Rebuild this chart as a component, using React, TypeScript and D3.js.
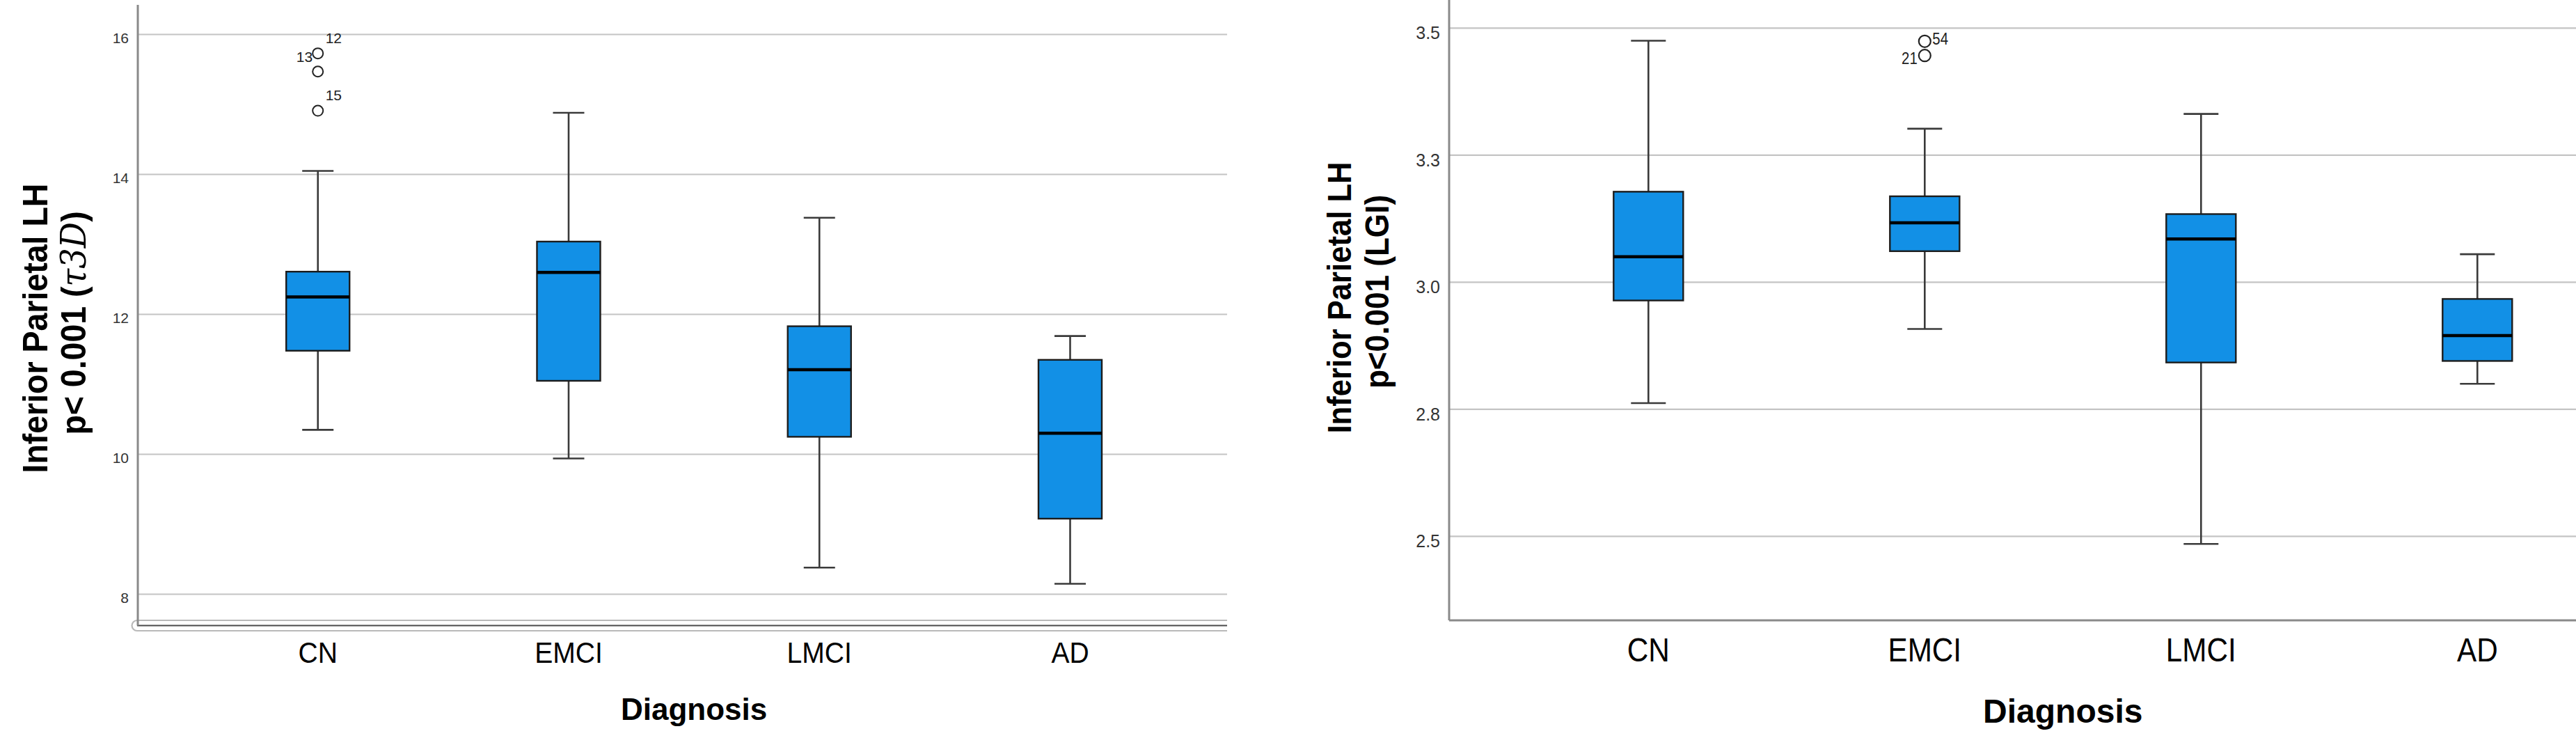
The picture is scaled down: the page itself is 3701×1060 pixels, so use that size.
import React from "react";
import * as d3 from "d3";

// ---------- data ----------
const categories = ["CN", "EMCI", "LMCI", "AD"];

// Left panel: Inferior Parietal LH (τ3D)
const tauWhiskerLow = [10.35, 9.94, 8.38, 8.15];
const tauQ1 = [11.48, 11.05, 10.25, 9.08];
const tauMedian = [12.25, 12.6, 11.21, 10.3];
const tauQ3 = [12.61, 13.04, 11.83, 11.35];
const tauWhiskerHigh = [14.05, 14.88, 13.38, 11.69];
const tauOutlierCategory = ["CN", "CN", "CN"];
const tauOutlierValues = [15.73, 15.47, 14.91];
const tauOutlierLabels = [
  { cat: "CN", value: 15.73, id: "12", side: "upright" },
  { cat: "CN", value: 15.73, id: "13", side: "left" },
  { cat: "CN", value: 14.91, id: "15", side: "upright" },
];
const tauTicks = [8, 10, 12, 14, 16];
const tauTickLabels = ["8", "10", "12", "14", "16"];

// Right panel: Inferior Parietal LH (LGI)
const lgiWhiskerLow = [2.762, 2.908, 2.485, 2.8];
const lgiQ1 = [2.964, 3.061, 2.842, 2.845];
const lgiMedian = [3.05, 3.117, 3.085, 2.895];
const lgiQ3 = [3.178, 3.169, 3.134, 2.967];
const lgiWhiskerHigh = [3.475, 3.302, 3.331, 3.055];
const lgiOutlierCategory = ["EMCI", "EMCI"];
const lgiOutlierValues = [3.474, 3.446];
const lgiOutlierLabels = [
  { cat: "EMCI", value: 3.474, id: "54", side: "right" },
  { cat: "EMCI", value: 3.446, id: "21", side: "left" },
];
const lgiTicks = [2.5, 2.75, 3.0, 3.25, 3.5];
const lgiTickLabels = ["2.5", "2.8", "3.0", "3.3", "3.5"];

// ---------- styles ----------
const FONT = "'Liberation Sans', Arial, Helvetica, sans-serif";
const BOX_FILL = "#1290e6";
const BOX_STROKE = "#1c1c1c";
const WHISKER = "#3a3a3a";
const GRID = "#c4c4c4";
const AXIS = "#8a8a8a";

type Panel = {
  x: d3.ScalePoint<string>;
  y: d3.ScaleLinear<number, number>;
  left: number;
  right: number;
  top: number;
  bottom: number;
  boxW: number;
  capW: number;
  r: number;
  ticks: number[];
  tickLabels: string[];
  tickFont: number;
  tickRight: number;
  tickDy: number;
  catFont: number;
  catBaseline: number;
  catSquash: number;
  outFont: number;
};

function Boxes({
  p,
  lo,
  q1,
  med,
  q3,
  hi,
}: {
  p: Panel;
  lo: number[];
  q1: number[];
  med: number[];
  q3: number[];
  hi: number[];
}) {
  return (
    <g>
      {categories.map((c, i) => {
        const cx = p.x(c)!;
        const yHi = p.y(hi[i]);
        const yLo = p.y(lo[i]);
        const yQ1 = p.y(q1[i]);
        const yQ3 = p.y(q3[i]);
        const yMed = p.y(med[i]);
        return (
          <g key={c}>
            <line x1={cx} x2={cx} y1={yHi} y2={yQ3} stroke={WHISKER} strokeWidth={2.6} />
            <line x1={cx} x2={cx} y1={yQ1} y2={yLo} stroke={WHISKER} strokeWidth={2.6} />
            <line x1={cx - p.capW / 2} x2={cx + p.capW / 2} y1={yHi} y2={yHi} stroke={WHISKER} strokeWidth={2.6} />
            <line x1={cx - p.capW / 2} x2={cx + p.capW / 2} y1={yLo} y2={yLo} stroke={WHISKER} strokeWidth={2.6} />
            <rect
              x={cx - p.boxW / 2}
              y={yQ3}
              width={p.boxW}
              height={yQ1 - yQ3}
              fill={BOX_FILL}
              stroke={BOX_STROKE}
              strokeWidth={2.4}
            />
            <line
              x1={cx - p.boxW / 2}
              x2={cx + p.boxW / 2}
              y1={yMed}
              y2={yMed}
              stroke="#000"
              strokeWidth={4.5}
            />
          </g>
        );
      })}
    </g>
  );
}

function Grid({ p }: { p: Panel }) {
  return (
    <g>
      {p.ticks.map((t, i) => (
        <g key={t}>
          <line x1={p.left} x2={p.right} y1={p.y(t)} y2={p.y(t)} stroke={GRID} strokeWidth={2.2} />
          <text
            x={p.tickRight}
            y={p.y(t) + p.tickDy}
            textAnchor="end"
            fontFamily={FONT}
            fontSize={p.tickFont}
            fill="#333"
          >
            {p.tickLabels[i]}
          </text>
        </g>
      ))}
    </g>
  );
}

function CatLabels({ p }: { p: Panel }) {
  return (
    <g>
      {categories.map((c) => (
        <text
          key={c}
          transform={`translate(${p.x(c)},${p.catBaseline}) scale(${p.catSquash},1)`}
          textAnchor="middle"
          fontFamily={FONT}
          fontSize={p.catFont}
          fill="#000"
        >
          {c}
        </text>
      ))}
    </g>
  );
}

export default function App() {
  // Left panel scales
  const xL = d3.scalePoint<string>().domain(categories).range([456.7, 1537.5]);
  const yL = d3.scaleLinear().domain([8, 16]).range([853.5, 49.5]);
  const pL: Panel = {
    x: xL,
    y: yL,
    left: 198,
    right: 1763,
    top: 7,
    bottom: 898.5,
    boxW: 91,
    capW: 45,
    r: 7.5,
    ticks: tauTicks,
    tickLabels: tauTickLabels,
    tickFont: 21,
    tickRight: 185,
    tickDy: 12.5,
    catFont: 42,
    catBaseline: 952,
    catSquash: 0.93,
    outFont: 21,
  };

  // Right panel scales
  const xR = d3.scalePoint<string>().domain(categories).range([2368.3, 3559.3]);
  const yR = d3.scaleLinear().domain([2.5, 3.5]).range([770.3, 40.3]);
  const pR: Panel = {
    x: xR,
    y: yR,
    left: 2082,
    right: 3701,
    top: 0,
    bottom: 891,
    boxW: 100,
    capW: 50,
    r: 8.5,
    ticks: lgiTicks,
    tickLabels: lgiTickLabels,
    tickFont: 25,
    tickRight: 2069,
    tickDy: 15.7,
    catFont: 48,
    catBaseline: 950,
    catSquash: 0.88,
    outFont: 24,
  };

  const midL = (xL("CN")! + xL("AD")!) / 2;
  const midR = (xR("CN")! + xR("AD")!) / 2;

  return (
    <svg
      width={3701}
      height={1060}
      style={{ position: "absolute", left: 0, top: 0, background: "#fff" }}
    >
      <rect x={0} y={0} width={3701} height={1060} fill="#fff" />

      {/* ---------------- Left panel ---------------- */}
      <Grid p={pL} />
      {/* bottom frame with rounded break */}
      <path
        d={`M${pL.right},891 H197 A7.5,7.5 0 0 0 197,906 H${pL.right}`}
        fill="none"
        stroke="#b9b9b9"
        strokeWidth={2.2}
      />
      <line x1={197} x2={pL.right} y1={898.5} y2={898.5} stroke="#4a4a4a" strokeWidth={2.2} />
      <line x1={198} x2={198} y1={pL.top} y2={898.5} stroke={AXIS} strokeWidth={3} />

      <Boxes p={pL} lo={tauWhiskerLow} q1={tauQ1} med={tauMedian} q3={tauQ3} hi={tauWhiskerHigh} />
      {tauOutlierValues.map((v, i) => (
        <circle
          key={i}
          cx={xL(tauOutlierCategory[i])!}
          cy={yL(v)}
          r={pL.r}
          fill="none"
          stroke="#222"
          strokeWidth={2}
        />
      ))}
      {tauOutlierLabels.map((o, i) => {
        const cx = xL(o.cat)!;
        const cy = yL(o.value);
        const up = o.side === "upright";
        return (
          <text
            key={i}
            x={up ? cx + 11 : cx - 7.5}
            y={up ? cy - 15 : cy + 12}
            textAnchor={up ? "start" : "end"}
            fontFamily={FONT}
            fontSize={pL.outFont}
            fill="#222"
          >
            {o.id}
          </text>
        );
      })}
      <CatLabels p={pL} />
      <text
        x={midL}
        y={1034}
        textAnchor="middle"
        fontFamily={FONT}
        fontSize={44}
        fontWeight="bold"
        fill="#000"
      >
        Diagnosis
      </text>
      <g transform={`translate(68,471.6) rotate(-90) scale(0.93,1)`}>
        <text textAnchor="middle" fontFamily={FONT} fontSize={50} fontWeight="bold" fill="#000">
          Inferior Parietal LH
        </text>
      </g>
      <g transform={`translate(123,464) rotate(-90) scale(0.93,1)`}>
        <text textAnchor="middle" fontFamily={FONT} fontSize={50} fontWeight="bold" fill="#000">
          {"p< 0.001 ("}
          <tspan fontStyle="italic" fontWeight="normal" fontFamily="'DejaVu Serif', 'Liberation Serif', serif">
            τ3D
          </tspan>
          {")"}
        </text>
      </g>

      {/* ---------------- Right panel ---------------- */}
      <Grid p={pR} />
      <line x1={pR.left} x2={pR.right} y1={pR.bottom} y2={pR.bottom} stroke={AXIS} strokeWidth={3} />
      <line x1={pR.left} x2={pR.left} y1={pR.top} y2={pR.bottom} stroke={AXIS} strokeWidth={3} />

      <Boxes p={pR} lo={lgiWhiskerLow} q1={lgiQ1} med={lgiMedian} q3={lgiQ3} hi={lgiWhiskerHigh} />
      {lgiOutlierValues.map((v, i) => (
        <circle
          key={i}
          cx={xR(lgiOutlierCategory[i])!}
          cy={yR(v)}
          r={pR.r}
          fill="none"
          stroke="#222"
          strokeWidth={2.2}
        />
      ))}
      {lgiOutlierLabels.map((o, i) => {
        const cx = xR(o.cat)!;
        const cy = yR(o.value);
        const right = o.side === "right";
        return (
          <text
            key={i}
            transform={`translate(${right ? cx + 11 : cx - 10.5},${right ? cy + 4.5 : cy + 12.5}) scale(0.85,1)`}
            textAnchor={right ? "start" : "end"}
            fontFamily={FONT}
            fontSize={pR.outFont}
            fill="#222"
          >
            {o.id}
          </text>
        );
      })}
      <CatLabels p={pR} />
      <text
        x={midR}
        y={1038}
        textAnchor="middle"
        fontFamily={FONT}
        fontSize={48}
        fontWeight="bold"
        fill="#000"
      >
        Diagnosis
      </text>
      <g transform={`translate(1941,427.5) rotate(-90) scale(0.89,1)`}>
        <text textAnchor="middle" fontFamily={FONT} fontSize={49} fontWeight="bold" fill="#000">
          Inferior Parietal LH
        </text>
      </g>
      <g transform={`translate(1995,419) rotate(-90) scale(0.9,1)`}>
        <text textAnchor="middle" fontFamily={FONT} fontSize={49} fontWeight="bold" fill="#000">
          p&lt;0.001 (LGI)
        </text>
      </g>
    </svg>
  );
}
